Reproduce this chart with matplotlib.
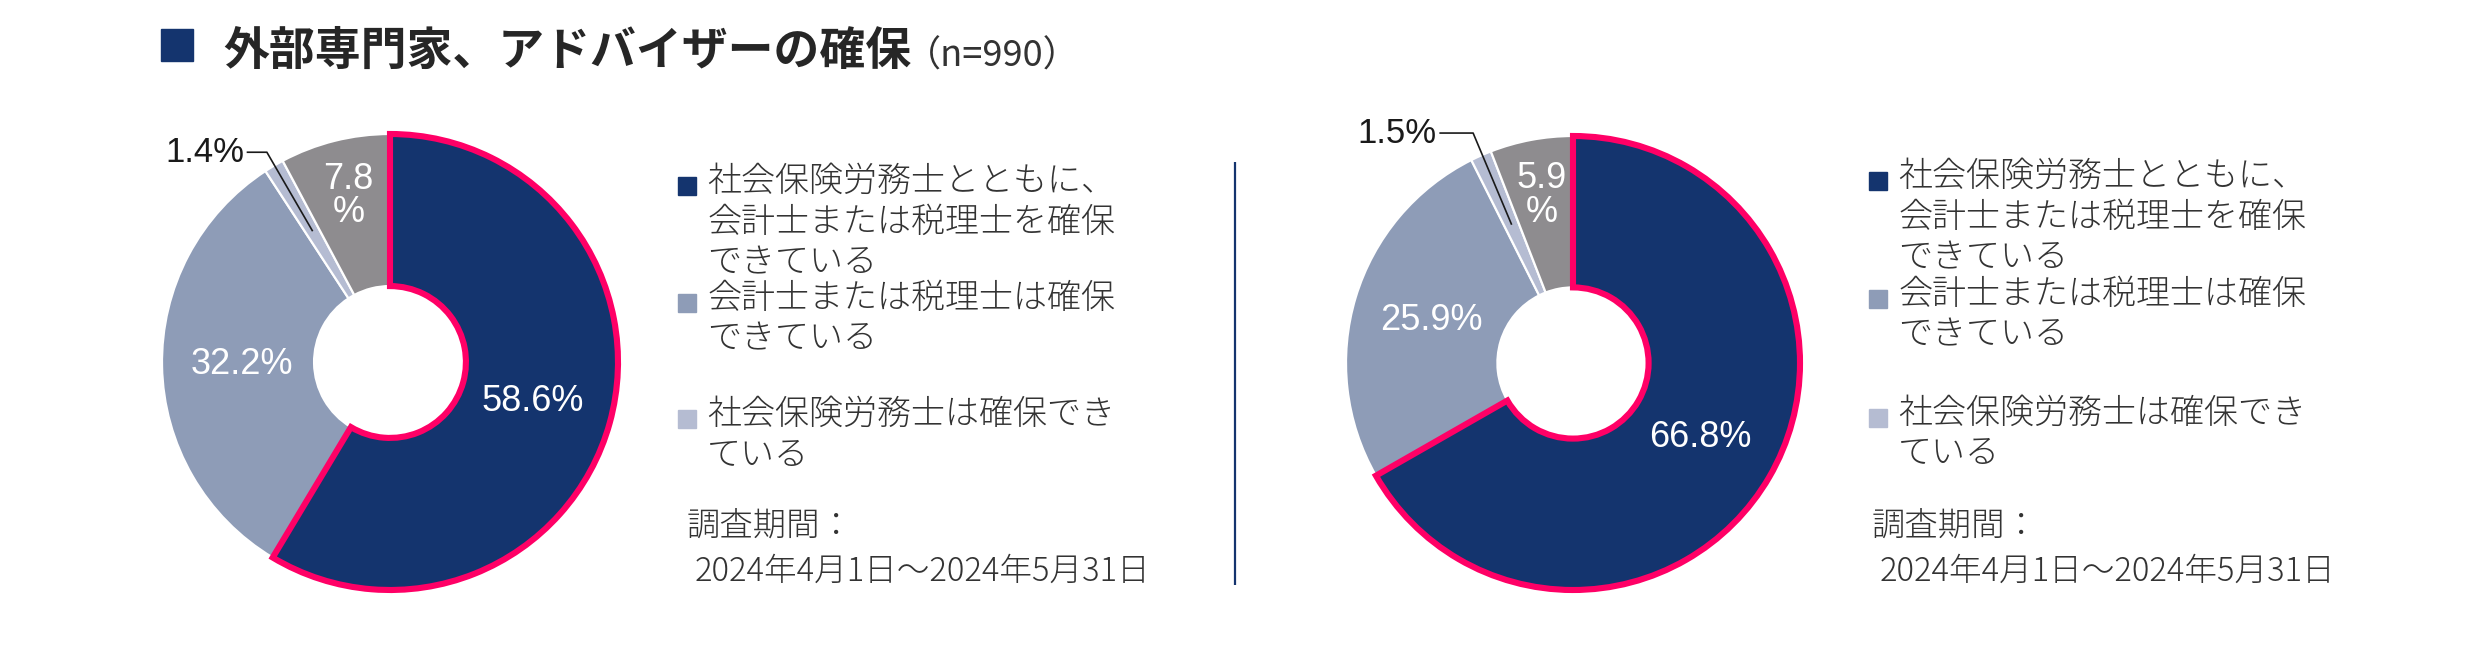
import numpy as np
import matplotlib
matplotlib.use('Agg')
import matplotlib.pyplot as plt
from matplotlib.patches import Rectangle

# data
title = '外部専門家、アドバイザーの確保'
n_label = '（n=990）'
legend_labels = ['社会保険労務士とともに、\n会計士または税理士を確保\nできている',
                 '会計士または税理士は確保\nできている',
                 '社会保険労務士は確保でき\nている']
period_head = '調査期間：'
period = '2024年4月1日～2024年5月31日'
left_values = [58.6, 32.2, 1.4, 7.8]
right_values = [66.8, 25.9, 1.5, 5.9]
colors = ['#14346E', '#8E9CB7', '#B5BCD2', '#8E8C8F']

W, H = 2475, 663
JP = ['Noto Sans CJK JP', 'DejaVu Sans']
NUM = ['Liberation Sans', 'DejaVu Sans']
TXT = '#333333'
NAVY = '#14346E'
PINK = '#FF0066'

fig = plt.figure(figsize=(W / 100, H / 100), dpi=100)
fig.patch.set_facecolor('white')

# background axes in pixel coords (y down)
bg = fig.add_axes([0, 0, 1, 1])
bg.set_xlim(0, W)
bg.set_ylim(H, 0)
bg.axis('off')

# title
bg.add_patch(Rectangle((161, 29), 32, 32, color=NAVY))
bg.text(223, 65, title, fontsize=33, fontweight='bold', family=JP,
        color='#262626', va='baseline', ha='left')
bg.text(905, 67, n_label, fontsize=26, family=JP, color=TXT,
        va='baseline', ha='left')

# divider
bg.plot([1235, 1235], [162, 585], color=NAVY, lw=1.6, solid_capstyle='butt')


def donut(cx, cy, r, values, out_text_x, elbow_x, out_y):
    lim = 1.3
    half = r * lim
    ax = fig.add_axes([(cx - half) / W, (H - cy - half) / H, 2 * half / W, 2 * half / H])
    wedges, _ = ax.pie(values, colors=colors, startangle=90, counterclock=False,
                       wedgeprops=dict(width=0.667, edgecolor='white', linewidth=1.6))
    ax.set_xlim(-lim, lim)
    ax.set_ylim(-lim, lim)
    ax.set_aspect('equal')
    ax.axis('off')
    wedges[0].set_edgecolor(PINK)
    wedges[0].set_linewidth(4.4)
    wedges[0].set_joinstyle('miter')
    wedges[0].set_zorder(5)

    for i, (w, v) in enumerate(zip(wedges, values)):
        mid = np.deg2rad((w.theta1 + w.theta2) / 2)
        if i in (0, 1):
            ax.text(0.65 * np.cos(mid), 0.65 * np.sin(mid), f'{v}%', color='white',
                    fontsize=26, family=NUM, ha='center', va='center', zorder=6)
        elif i == 3:
            ax.text(0.75 * np.cos(mid), 0.75 * np.sin(mid), f'{v}\n%', color='white',
                    fontsize=26, family=NUM, ha='center', va='center',
                    linespacing=0.95, zorder=6)
        else:
            ex, ey = 0.67 * np.cos(mid), 0.67 * np.sin(mid)
            ax.plot([out_text_x + 0.015, elbow_x, ex], [out_y, out_y, ey],
                    color='#1a1a1a', lw=1.2, zorder=7)
            ax.text(out_text_x, out_y, f'{v}%', color='#1a1a1a', fontsize=25,
                    family=NUM, ha='right', va='center', zorder=7)
    return ax


def legend(sq_x, text_x, baselines, head_x, date_x):
    step = 40.5
    for lab, col, b0 in zip(legend_labels, colors, baselines):
        bg.add_patch(Rectangle((sq_x, b0 - 14), 18, 18, color=col))
        for j, line in enumerate(lab.split('\n')):
            bg.text(text_x, b0 + j * step, line, fontsize=24.5, family=JP,
                    fontweight='light', color=TXT, va='baseline', ha='left')
    bg.text(head_x, 536, period_head, fontsize=24, family=JP, fontweight='light',
            color=TXT, va='baseline')
    bg.text(date_x, 581, period, fontsize=23.5, family=JP, fontweight='light',
            color=TXT, va='baseline')


donut(390, 362, 228, left_values, -0.64, -0.54, 0.92)
donut(1573, 363, 227, right_values, -0.60, -0.44, 1.013)

legend(678, 707, [191, 308, 424], 687, 695)
legend(1869, 1898, [186, 304, 423], 1872, 1880)

fig.savefig('out.png', dpi=100)
